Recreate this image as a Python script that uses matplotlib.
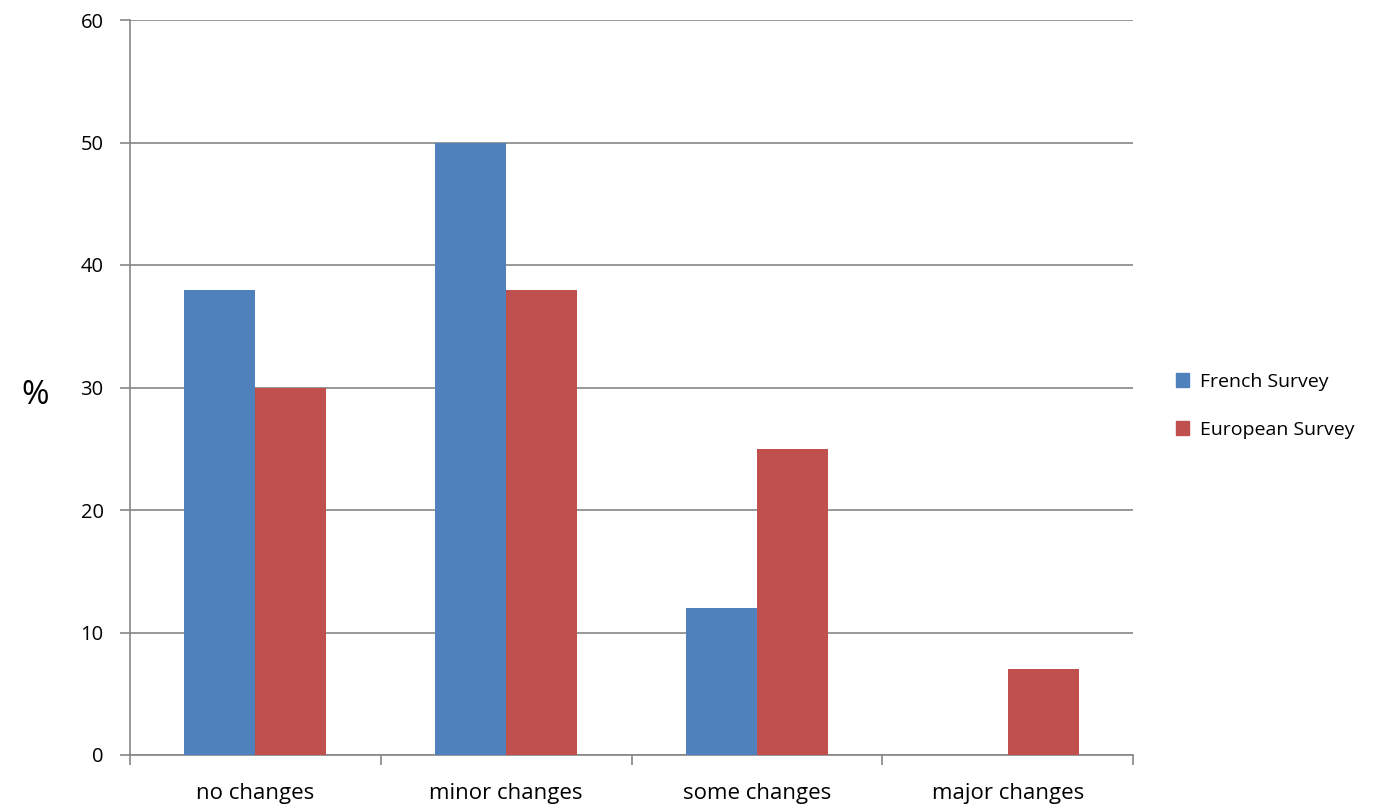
import numpy as np
import matplotlib
matplotlib.use("Agg")
import matplotlib.pyplot as plt
from matplotlib.patches import Patch

plt.rcParams['font.family'] = ['Open Sans', 'DejaVu Sans']

categories = ['no changes', 'minor changes', 'some changes', 'major changes']
french = [38, 50, 12, 0]
european = [30, 38, 25, 7]
series_names = ['French Survey', 'European Survey']

blue = '#4F81BD'
red = '#C0504D'
grid_grey = '#868686'

fig = plt.figure(figsize=(13.87, 8.06), dpi=100)
ax = fig.add_axes([130 / 1387, 1 - 755 / 806, (1133 - 130) / 1387, (755 - 20) / 806])

x = np.arange(len(categories)) + 0.5
w = 0.283
ax.bar(x - w / 2, french, width=w, color=blue, zorder=3)
ax.bar(x + w / 2, european, width=w, color=red, zorder=3)

ax.set_xlim(0, len(categories))
ax.set_ylim(0, 60)
ax.set_yticks(range(0, 61, 10))
ax.yaxis.grid(True, color=grid_grey, linewidth=1.2, zorder=0)

# category labels sit between the boundary ticks
ax.set_xticks(np.arange(len(categories) + 1))
ax.set_xticklabels([])
ax.set_xticks(x, minor=True)
ax.set_xticklabels(categories, minor=True, fontsize=16)
ax.tick_params(axis='x', which='minor', length=0, pad=20)
ax.tick_params(axis='x', which='major', length=7, width=1.2, color=grid_grey, direction='out')
ax.tick_params(axis='y', length=7, width=1.2, color=grid_grey, labelsize=14.5, pad=12)

for side in ['top', 'right']:
    ax.spines[side].set_visible(False)
for side in ['left', 'bottom']:
    ax.spines[side].set_color(grid_grey)
    ax.spines[side].set_linewidth(1.2)

fig.text(35 / 1387, 1 - 395 / 806, '%', fontsize=24, ha='center', va='center')

handles = [Patch(color=blue), Patch(color=red)]
fig.legend(handles, series_names, loc='center left', bbox_to_anchor=(1158 / 1387, 1 - 406 / 806),
           frameon=False, fontsize=14, handlelength=0.7, handleheight=0.7,
           handletextpad=0.55, labelspacing=1.55)

fig.savefig('out.png', dpi=100)
